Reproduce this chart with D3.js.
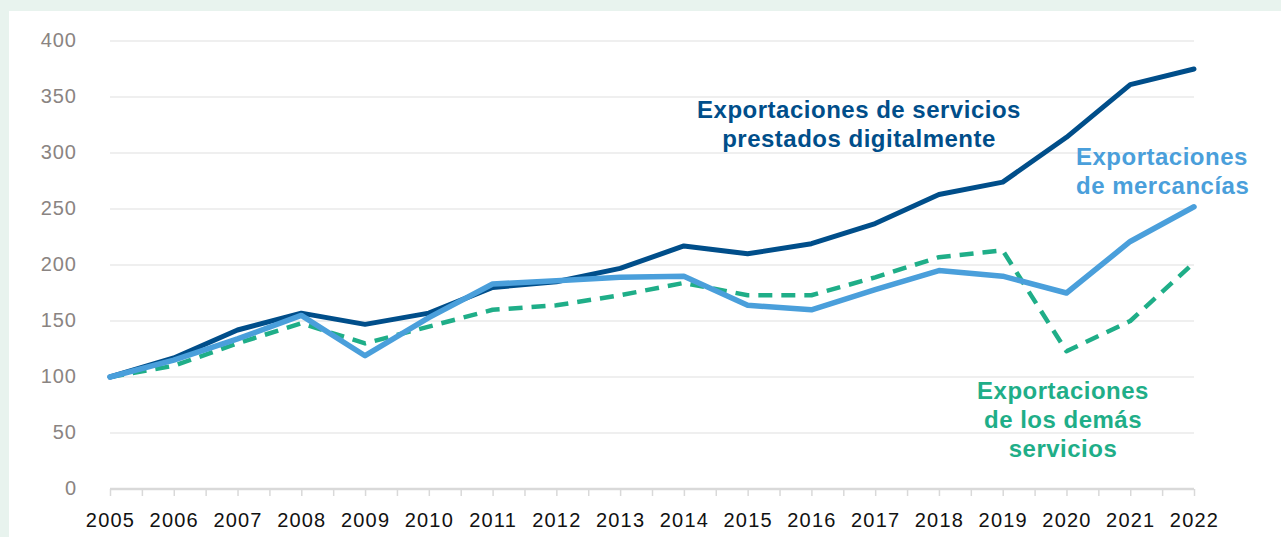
<!DOCTYPE html>
<html>
<head>
<meta charset="utf-8">
<script src="https://cdn.jsdelivr.net/npm/d3@7"></script>
<style>
  html, body { margin: 0; padding: 0; background: #e8f3ee; }
  svg { display: block; font-family: "Liberation Sans", Arial, sans-serif; }
</style>
</head>
<body>
<svg id="chart" width="1281" height="537"></svg>
<script>
// data (index 2005 = 100)
const years = d3.range(2005, 2023);
const digitalServices = [100, 117, 142, 157, 147, 157, 180, 185, 197, 217, 210, 219, 237, 263, 274, 314, 361, 375];
const goods = [100, 115, 134, 155, 119, 153, 183, 186, 189, 190, 164, 160, 178, 195, 190, 175, 221, 252];
const otherServices = [100, 110, 130, 148, 130, 145, 160, 164, 173, 184, 173, 173, 189, 207, 213, 123, 150, 202];
const yTicks = [0, 50, 100, 150, 200, 250, 300, 350, 400];

const series = [
  { name: "digital", values: digitalServices, color: "#004e8a", width: 5, dash: null,
    label: ["Exportaciones de servicios", "prestados digitalmente"], lx: 859, ly: 118, anchor: "middle" },
  { name: "goods", values: goods, color: "#4a9fdb", width: 5.5, dash: null,
    label: ["Exportaciones", "de mercancías"], lx: 1076, ly: 165, anchor: "start" },
  { name: "other", values: otherServices, color: "#1fae88", width: 4.5, dash: "14,9",
    label: ["Exportaciones", "de los demás", "servicios"], lx: 1063, ly: 399, anchor: "middle" }
];

const svg = d3.select("#chart");

// white panel
svg.append("rect")
  .attr("x", 9).attr("y", 11)
  .attr("width", 1281 - 9).attr("height", 537 - 11)
  .attr("fill", "#ffffff");

const x = d3.scaleLinear().domain([2005, 2022]).range([110, 1194]);
const y = d3.scaleLinear().domain([0, 400]).range([489, 41]);

// gridlines
svg.append("g")
  .selectAll("line")
  .data(yTicks.filter(d => d > 0))
  .join("line")
  .attr("x1", x(2005)).attr("x2", x(2022))
  .attr("y1", d => y(d)).attr("y2", d => y(d))
  .attr("stroke", "#efefef")
  .attr("stroke-width", 2);

// y axis labels
const yAxisG = svg.append("g")
  .attr("transform", `translate(${x(2005)},0)`)
  .call(d3.axisLeft(y).tickValues(yTicks).tickSize(0).tickPadding(33));
yAxisG.select(".domain").remove();
yAxisG.selectAll("text")
  .attr("fill", "#8a8482")
  .attr("dy", "0.28em")
  .style("font-size", "20px")
  .style("letter-spacing", "1px")
  .style("font-family", "'Liberation Sans', Arial, sans-serif");

// x axis
const xAxisG = svg.append("g")
  .attr("transform", `translate(0,${y(0)})`)
  .call(d3.axisBottom(x)
    .tickValues(d3.range(2005, 2022.5, 0.5))
    .tickSize(7)
    .tickPadding(17)
    .tickFormat(d => Number.isInteger(d) ? String(d) : ""));
xAxisG.select(".domain").attr("stroke", "#d9d9d9").attr("stroke-width", 2.5)
  .attr("d", `M${x(2005)},0H${x(2022)}`);
xAxisG.selectAll(".tick line").attr("stroke", "#d9d9d9").attr("stroke-width", 1.5);
xAxisG.selectAll("text")
  .attr("fill", "#111111")
  .style("font-size", "20px")
  .style("letter-spacing", "1.2px")
  .style("font-family", "'Liberation Sans', Arial, sans-serif");

// lines
const line = d3.line()
  .x((d, i) => x(years[i]))
  .y(d => y(d));

// draw order: other (back), digital, goods (front)
const order = [series[2], series[0], series[1]];
svg.append("g")
  .selectAll("path")
  .data(order)
  .join("path")
  .attr("d", d => line(d.values))
  .attr("fill", "none")
  .attr("stroke", d => d.color)
  .attr("stroke-width", d => d.width)
  .attr("stroke-dasharray", d => d.dash)
  .attr("stroke-linejoin", "round")
  .attr("stroke-linecap", d => d.dash ? "butt" : "round");

// series labels
series.forEach(s => {
  const t = svg.append("text")
    .attr("x", s.lx).attr("y", s.ly)
    .attr("text-anchor", s.anchor)
    .attr("fill", s.color)
    .style("font-size", "24px")
    .style("font-weight", "bold")
    .style("letter-spacing", "0.5px");
  s.label.forEach((l, i) => {
    t.append("tspan")
      .attr("x", s.lx)
      .attr("y", s.ly + i * 29)
      .text(l);
  });
});
</script>
</body>
</html>
